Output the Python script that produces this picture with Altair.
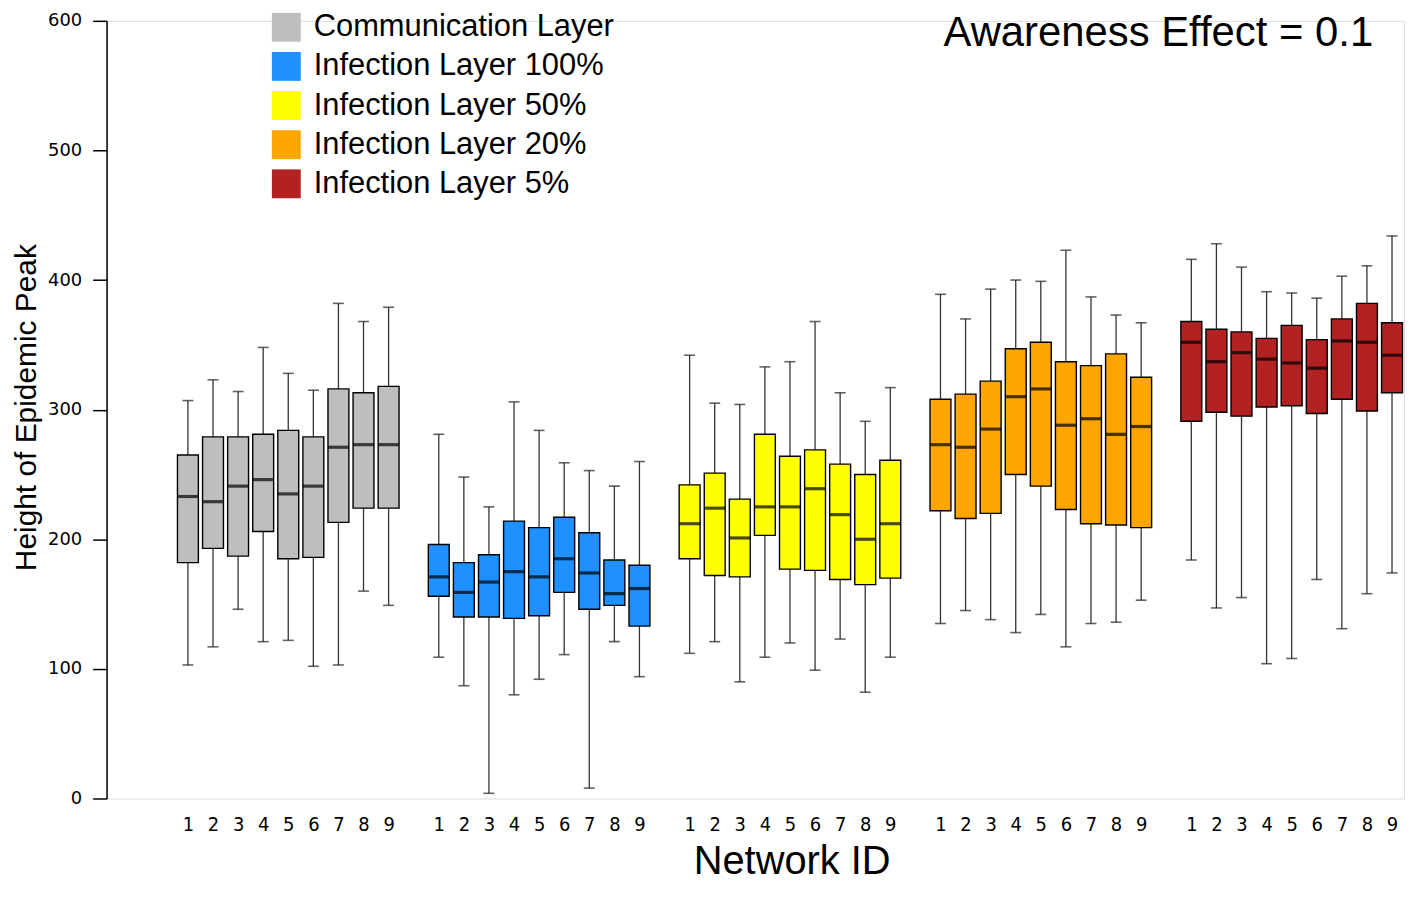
import altair as alt
import pandas as pd

groups = ["Communication Layer", "Infection Layer 100%", "Infection Layer 50%",
          "Infection Layer 20%", "Infection Layer 5%"]
colors = ["#BEBEBE", "#1E90FF", "#FFFF00", "#FFA500", "#B22222"]
network_ids = [1, 2, 3, 4, 5, 6, 7, 8, 9]
panel_title = ["Awareness Effect = 0.1"]

# per group (rows) and network id (columns)
whisker_low = [
    [103, 117, 146, 121, 122, 102, 103, 160, 149],
    [109, 87, 4, 80, 92, 111, 8, 121, 94],
    [112, 121, 90, 109, 120, 99, 123, 82, 109],
    [135, 145, 138, 128, 142, 117, 135, 136, 153],
    [184, 147, 155, 104, 108, 169, 131, 158, 174],
]
quart_1 = [
    [182, 193, 187, 206, 185, 186, 213, 224, 224],
    [156, 140, 140, 139, 141, 159, 146, 149, 133],
    [185, 172, 171, 203, 177, 176, 169, 165, 170],
    [222, 216, 220, 250, 241, 223, 212, 211, 209],
    [291, 298, 295, 302, 303, 297, 308, 299, 313],
]
medians = [
    [233, 229, 241, 246, 235, 241, 271, 273, 273],
    [171, 159, 167, 175, 171, 185, 174, 158, 162],
    [212, 224, 201, 225, 225, 239, 219, 200, 212],
    [273, 271, 285, 310, 316, 288, 293, 281, 287],
    [352, 337, 344, 339, 336, 332, 353, 352, 342],
]
quart_3 = [
    [265, 279, 279, 281, 284, 279, 316, 313, 318],
    [196, 182, 188, 214, 209, 217, 205, 184, 180],
    [242, 251, 231, 281, 264, 269, 258, 250, 261],
    [308, 312, 322, 347, 352, 337, 334, 343, 325],
    [368, 362, 360, 355, 365, 354, 370, 382, 367],
]
whisker_high = [
    [307, 323, 314, 348, 328, 315, 382, 368, 379],
    [281, 248, 225, 306, 284, 259, 253, 241, 260],
    [342, 305, 304, 333, 337, 368, 313, 291, 317],
    [389, 370, 393, 400, 399, 423, 387, 373, 367],
    [416, 428, 410, 391, 390, 386, 403, 411, 434],
]
y_ticks = [0, 100, 200, 300, 400, 500, 600]

rows = []
for g, name in enumerate(groups):
    for i, nid in enumerate(network_ids):
        rows.append({
            "group": name,
            "network": nid,
            "pos": g * 10 + nid,
            "low": whisker_low[g][i],
            "q1": quart_1[g][i],
            "med": medians[g][i],
            "q3": quart_3[g][i],
            "high": whisker_high[g][i],
        })
df = pd.DataFrame(rows)
positions = df["pos"].tolist()

xscale = alt.Scale(domain=[-2.044, 49.28], nice=False, zero=False)
yscale = alt.Scale(domain=[0, 600], nice=False, zero=True)

xaxis = alt.Axis(
    values=positions, labelExpr="datum.value % 10", ticks=False, domain=False,
    grid=False,
    labelFont="'Liberation Sans Narrow', 'DejaVu Sans Condensed', 'Liberation Sans'",
    labelFontSize=20, labelColor="black", labelPadding=16, labelAngle=0,
    title="Network ID", titleFont="Liberation Sans", titleFontSize=40,
    titleFontWeight="normal", titleColor="black", titleX=688, titleY=75,
    titleAlign="center", titleBaseline="alphabetic",
)
yaxis = alt.Axis(
    values=y_ticks, grid=False, domainColor="black", domainWidth=1.5,
    tickColor="black", tickWidth=1.5, tickSize=14, labelPadding=11,
    labelFont="DejaVu Sans", labelFontSize=18, labelColor="black",
    title="Height of Epidemic Peak", titleFont="Liberation Sans",
    titleFontSize=30, titleFontWeight="normal", titleColor="black",
    titleAngle=-90, titleX=-71, titleY=388, titleAlign="center",
    titleBaseline="alphabetic",
)

base = alt.Chart(df).encode(x=alt.X("pos:Q", scale=xscale, axis=xaxis))

whiskers = base.mark_rule(color="#333333", strokeWidth=1.3).encode(
    y=alt.Y("low:Q", scale=yscale, axis=yaxis), y2="high:Q")
cap_low = base.mark_tick(orient="horizontal", size=11, thickness=1.6,
                         color="#222222").encode(y=alt.Y("low:Q", scale=yscale))
cap_high = base.mark_tick(orient="horizontal", size=11, thickness=1.6,
                          color="#222222").encode(y=alt.Y("high:Q", scale=yscale))
boxes = base.mark_bar(size=21, stroke="black", strokeWidth=1.4).encode(
    y=alt.Y("q1:Q", scale=yscale),
    y2="q3:Q",
    color=alt.Color(
        "group:N",
        scale=alt.Scale(domain=groups, range=colors),
        legend=alt.Legend(
            orient="none", legendX=165, legendY=-9, title=None,
            symbolType="square", symbolSize=841, symbolStrokeWidth=0,
            symbolStrokeColor="transparent", symbolOpacity=1,
            labelFont="Liberation Sans", labelFontSize=31, labelColor="black",
            labelOffset=12, rowPadding=7.3, padding=0, labelLimit=0,
        ),
    ),
)
med_ticks = base.mark_tick(orient="horizontal", size=21, thickness=3.2,
                           color="black").encode(y=alt.Y("med:Q", scale=yscale))

annotation = alt.Chart(pd.DataFrame({"label": panel_title})).mark_text(
    font="Liberation Sans", fontSize=42, color="black", align="right",
    baseline="alphabetic",
).encode(text="label:N", x=alt.value(1272), y=alt.value(25))

chart = alt.layer(whiskers, cap_low, cap_high, boxes, med_ticks, annotation).properties(
    width=1303,
    height=781,
    autosize=alt.AutoSizeParams(type="none"),
    padding={"left": 99, "top": 11, "right": 4, "bottom": 84},
).configure_view(stroke=None).configure(background="white")

chart.save("out.html", embed_options={"renderer": "svg", "actions": False})
